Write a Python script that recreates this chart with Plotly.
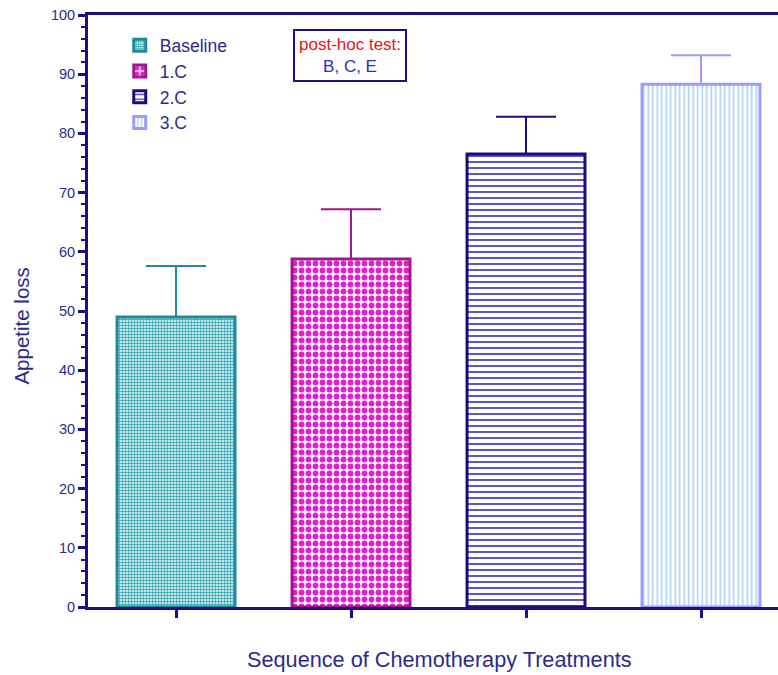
import plotly.graph_objects as go

categories = ["Baseline", "1.C", "2.C", "3.C"]
means = [49.0, 58.8, 76.5, 88.3]
sem_upper = [8.6, 8.4, 6.3, 4.9]
y_ticks = [0, 10, 20, 30, 40, 50, 60, 70, 80, 90, 100]

outline = ["#1b8a9a", "#a0168e", "#1a0c80", "#9c9cff"]
pat_fg = ["#2aa3ad", "#e21fcb", "#4b45c0", "#a9cff2"]
pat_shape = [".", ".", "-", "|"]
pat_size = [3, 7, 6, 4.5]
pat_sol = [0.55, 0.55, 0.3, 0.35]

NAVY = "#1b0f84"
TXT = "#2e2a8c"

fig = go.Figure()
for i, c in enumerate(categories):
    fig.add_trace(go.Bar(
        x=[i], y=[means[i]], name=c, width=0.674,
        marker=dict(color="white", line=dict(color=outline[i], width=3),
                    pattern=dict(shape=pat_shape[i], fgcolor=pat_fg[i], bgcolor="white",
                                 size=pat_size[i], solidity=pat_sol[i], fillmode="replace")),
        error_y=dict(type="data", symmetric=False, array=[sem_upper[i]], arrayminus=[0],
                     color=outline[i], thickness=2, width=30),
    ))

fig.update_layout(
    width=778, height=675, barmode="overlay",
    margin=dict(l=88, r=0, t=15, b=68),
    plot_bgcolor="white", paper_bgcolor="white",
    font=dict(family="Arial, Liberation Sans, sans-serif", color=TXT),
    showlegend=True,
    legend=dict(x=0.046, y=0.979, xanchor="left", yanchor="top",
                font=dict(size=17.5, color=TXT), bgcolor="rgba(0,0,0,0)",
                tracegroupgap=0, itemwidth=30),
    xaxis=dict(range=[-0.503, 3.44], tickmode="array", tickvals=[0, 1, 2, 3],
               showticklabels=False, ticks="outside", ticklen=8, tickwidth=3,
               tickcolor=NAVY, showline=True, linecolor=NAVY, linewidth=3,
               mirror=True, showgrid=False, zeroline=False),
    yaxis=dict(range=[0, 100], tickmode="array", tickvals=y_ticks,
               ticks="outside", ticklen=7, tickwidth=3, tickcolor=NAVY,
               tickfont=dict(size=14.5, color=TXT),
               showline=True, linecolor=NAVY, linewidth=3, showgrid=False, zeroline=False,
               minor=dict(dtick=2, ticks="outside", ticklen=4, tickwidth=2,
                          tickcolor=NAVY, showgrid=False)),
    annotations=[
        dict(text="Appetite loss", xref="paper", yref="paper", x=-0.096, y=0.475,
             textangle=-90, showarrow=False, font=dict(size=20.5, color=TXT),
             xanchor="center", yanchor="middle"),
        dict(text="Sequence of Chemotherapy Treatments", xref="paper", yref="paper",
             x=0.51, y=-0.0895, showarrow=False, font=dict(size=21.7, color=TXT),
             xanchor="center", yanchor="middle"),
        dict(text="<span style='color:#ee1111'>post-hoc test:</span><br>B, C, E",
             xref="paper", yref="paper", x=0.38, y=0.931, showarrow=False,
             font=dict(size=17, color="#2b2bd0"), bordercolor=NAVY, borderwidth=2,
             borderpad=4, bgcolor="white", xanchor="center", yanchor="middle"),
    ],
)

fig.write_html("out.html")
